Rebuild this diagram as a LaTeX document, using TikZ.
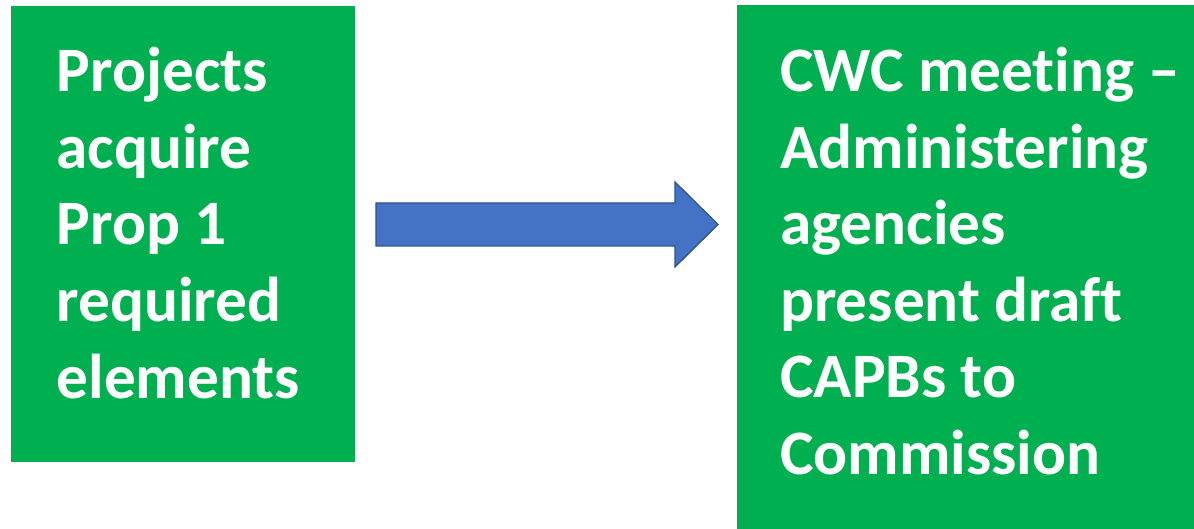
\documentclass[tikz,border=0pt]{standalone}
\usepackage{fontspec}
\setmainfont{Carlito}[Ligatures=NoCommon]
\definecolor{boxgreen}{HTML}{00B050}
\definecolor{arrowblue}{HTML}{4472C4}
\definecolor{arrowedge}{HTML}{2F528F}
\begin{document}
\begin{tikzpicture}[x=1pt,y=-1pt,
  greenbox/.style={fill=boxgreen,draw=none},
  boxtext/.style={text=white,font=\fontsize{63.3}{76.6}\selectfont\bfseries,align=left,inner sep=0pt,anchor=base west}]
\useasboundingbox (0,0) rectangle (1194,529);
\fill[white] (0,0) rectangle (1194,529);
\path[greenbox] (11,6) rectangle (355,462);
\path[greenbox] (737,5) rectangle (1194,529);
\node[boxtext] (lefttext) at (56.5,398) {Projects\\acquire\\Prop 1\\required\\elements};
\node[boxtext] (righttext) at (780,474.5) {CWC meeting –\\Administering\\agencies\\present draft\\CAPBs to\\Commission};
\draw[fill=arrowblue,draw=arrowedge,line width=1.3pt,line join=miter]
  (376,203) -- (675,203) -- (675,182) -- (718,224.5) -- (675,267) -- (675,246) -- (376,246) -- cycle;
\end{tikzpicture}
\end{document}
